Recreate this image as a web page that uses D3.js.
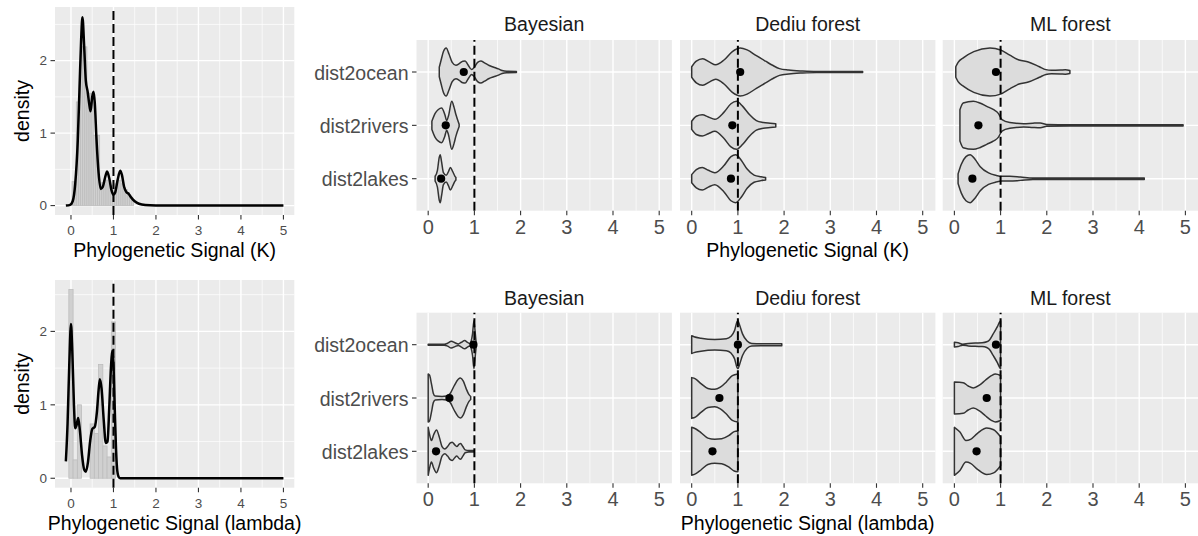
<!DOCTYPE html>
<html><head><meta charset="utf-8">
<script src="https://cdn.jsdelivr.net/npm/d3@7"></script>
<style>body{margin:0;background:#fff}svg{display:block;font-family:"Liberation Sans",Arial,sans-serif}</style>
</head><body><svg id="c" width="1198" height="536"></svg>
<script>
// ---------------- data ----------------
const methods = ["Bayesian", "Dediu forest", "ML forest"];
const variables = ["dist2ocean", "dist2rivers", "dist2lakes"];
const xTickValues = [0, 1, 2, 3, 4, 5];
const densityYTicks = [0, 1, 2];
const refLine = 1;

// density of K (pairs x, density)
const kDensity = [[-0.12,0],[-0.02,0.01],[0.04,0.06],[0.1,0.3],[0.16,0.9],[0.2,1.6],[0.24,2.3],[0.27,2.6],[0.31,2.2],[0.35,1.72],[0.39,1.58],[0.43,1.4],[0.46,1.3],[0.5,1.5],[0.53,1.57],[0.56,1.42],[0.6,0.92],[0.65,0.45],[0.7,0.23],[0.75,0.26],[0.8,0.38],[0.85,0.47],[0.9,0.38],[0.95,0.22],[1.0,0.15],[1.04,0.18],[1.1,0.36],[1.16,0.48],[1.2,0.42],[1.25,0.26],[1.3,0.19],[1.36,0.16],[1.42,0.11],[1.5,0.06],[1.6,0.025],[1.75,0.008],[2.0,0.002],[2.5,0],[5,0]];
const kHistMids = [0.05,0.10,0.15,0.20,0.25,0.30,0.35,0.40,0.45,0.50,0.55,0.60,0.65,0.70,0.75,0.80,0.85,0.90,0.95,1.00,1.05,1.10,1.15,1.20,1.25,1.30,1.35,1.40,1.45];
const kHistHeights = [0.33,0.33,1.43,1.43,2.19,2.19,2.19,1.55,1.55,1.55,0.97,0.97,0.97,0.30,0.32,0.35,0.35,0.30,0.28,0.28,0.30,0.35,0.35,0.30,0.25,0.22,0.18,0.12,0.08];
const kHistWidth = 0.05;

// density of lambda
const lambdaDensity = [[-0.12,0.23],[-0.08,0.75],[-0.04,1.55],[0,2.1],[0.03,1.75],[0.07,1.0],[0.1,0.68],[0.13,0.72],[0.17,0.82],[0.21,0.65],[0.26,0.32],[0.31,0.12],[0.35,0.09],[0.4,0.22],[0.45,0.5],[0.5,0.67],[0.56,0.7],[0.61,0.9],[0.65,1.2],[0.68,1.35],[0.72,1.22],[0.77,0.8],[0.82,0.48],[0.86,0.5],[0.9,0.95],[0.94,1.5],[0.97,1.74],[1.0,1.55],[1.03,0.95],[1.06,0.4],[1.09,0.1],[1.13,0.01],[1.16,0],[5,0]];
const lambdaHistMids = [0,0.1,0.2,0.3,0.4,0.5,0.6,0.7,0.8,0.9,1.0];
const lambdaHistHeights = [2.57,0.25,1.0,0,0,0.74,0.61,1.55,0.44,0.29,2.13];
const lambdaHistWidth = 0.1;

// violin profiles: [value, relative half-width]
const kBayesOcean = [[0.24,0.2],[0.28,0.5],[0.33,0.85],[0.39,1.0],[0.45,0.75],[0.52,0.4],[0.6,0.28],[0.68,0.36],[0.75,0.45],[0.8,0.46],[0.86,0.3],[0.94,0.1],[1.0,0.2],[1.07,0.4],[1.14,0.46],[1.22,0.38],[1.32,0.27],[1.42,0.2],[1.52,0.13],[1.6,0.06],[1.7,0.03],[1.91,0.025]];
const kBayesRivers = [[0.08,0.17],[0.15,0.5],[0.22,0.66],[0.29,0.72],[0.36,0.45],[0.4,0.2],[0.44,0.4],[0.51,1.0],[0.56,0.75],[0.6,0.45],[0.67,0.05]];
const kBayesLakes = [[0.15,0.1],[0.2,0.35],[0.24,0.9],[0.26,1.0],[0.29,0.7],[0.33,0.25],[0.39,0.14],[0.44,0.3],[0.48,0.47],[0.53,0.3],[0.58,0.1],[0.6,0.05]];
const kDediuOcean = [[0,0.22],[0.1,0.45],[0.24,0.55],[0.38,0.42],[0.52,0.3],[0.7,0.5],[0.88,0.85],[1.05,1.0],[1.2,0.92],[1.4,0.68],[1.6,0.45],[1.75,0.28],[1.9,0.14],[2.1,0.08],[2.4,0.04],[2.7,0.02],[3.7,0.02]];
const kDediuRivers = [[0,0.17],[0.1,0.38],[0.23,0.44],[0.36,0.35],[0.5,0.25],[0.7,0.55],[0.85,0.9],[0.97,1.0],[1.1,0.8],[1.25,0.45],[1.4,0.2],[1.55,0.12],[1.7,0.09],[1.82,0.07]];
const kDediuLakes = [[0,0.17],[0.1,0.38],[0.23,0.47],[0.36,0.35],[0.5,0.25],[0.7,0.55],[0.85,0.92],[0.95,1.0],[1.08,0.75],[1.2,0.4],[1.35,0.15],[1.5,0.08],[1.6,0.05]];
const kMLOcean = [[0.03,0.22],[0.08,0.4],[0.2,0.6],[0.42,0.85],[0.77,1.0],[1.0,0.92],[1.2,0.7],[1.4,0.5],[1.6,0.42],[1.84,0.22],[1.98,0.1],[2.1,0.07],[2.3,0.08],[2.4,0.09],[2.5,0.06]];
const kMLRivers = [[0.12,0.65],[0.19,0.93],[0.41,1.0],[0.55,0.93],[0.7,0.79],[0.85,0.65],[0.95,0.5],[1.03,0.24],[1.2,0.12],[1.5,0.07],[1.7,0.09],[1.86,0.1],[2.0,0.04],[2.5,0.025],[4.95,0.025]];
const kMLLakes = [[0.08,0.2],[0.15,0.6],[0.25,0.92],[0.34,1.0],[0.45,0.8],[0.56,0.5],[0.74,0.24],[0.9,0.14],[1.03,0.1],[1.2,0.1],[1.43,0.07],[1.7,0.03],[4.11,0.03]];

const lambdaBayesOcean = [[0,0.02],[0.35,0.02],[0.42,0.06],[0.5,0.14],[0.58,0.08],[0.65,0.03],[0.72,0.1],[0.79,0.17],[0.85,0.1],[0.9,0.05],[0.93,0.15],[0.96,0.45],[0.99,1.0],[1.02,0.45],[1.04,0.05]];
const lambdaBayesRivers = [[0,1.0],[0.03,0.95],[0.07,0.6],[0.11,0.2],[0.15,0.08],[0.3,0.06],[0.4,0.08],[0.48,0.2],[0.56,0.5],[0.65,0.78],[0.7,0.83],[0.76,0.7],[0.82,0.4],[0.88,0.15],[0.92,0.06]];
const lambdaBayesLakes = [[0,1.0],[0.03,0.7],[0.07,0.45],[0.12,0.7],[0.18,0.89],[0.24,0.6],[0.3,0.2],[0.36,0.1],[0.42,0.2],[0.48,0.35],[0.52,0.38],[0.57,0.28],[0.62,0.2],[0.67,0.3],[0.7,0.33],[0.75,0.2],[0.8,0.06],[0.88,0.03],[0.99,0.03]];
const lambdaDediuOcean = [[0,0.37],[0.05,0.33],[0.2,0.27],[0.5,0.22],[0.75,0.25],[0.85,0.35],[0.93,0.6],[0.98,0.95],[1.0,1.0],[1.04,0.8],[1.1,0.45],[1.2,0.15],[1.3,0.05],[1.5,0.04],[1.95,0.04]];
const lambdaDediuRivers = [[0,0.85],[0.08,0.8],[0.2,0.6],[0.35,0.4],[0.5,0.36],[0.62,0.45],[0.75,0.67],[0.88,0.93],[1.0,1.0]];
const lambdaDediuLakes = [[0,1.0],[0.1,0.92],[0.2,0.78],[0.35,0.55],[0.5,0.5],[0.65,0.52],[0.8,0.65],[0.92,0.82],[1.0,0.85]];
const lambdaMLOcean = [[0,0.1],[0.08,0.08],[0.18,0.02],[0.3,0.05],[0.45,0.07],[0.6,0.08],[0.7,0.12],[0.76,0.2],[0.84,0.45],[0.93,0.75],[0.98,0.95],[1.0,1.0]];
const lambdaMLRivers = [[0,0.67],[0.19,0.64],[0.3,0.5],[0.41,0.42],[0.55,0.55],[0.67,0.74],[0.8,0.93],[0.89,1.0],[1.0,0.94]];
const lambdaMLLakes = [[0,1.0],[0.12,0.8],[0.25,0.45],[0.35,0.5],[0.5,0.75],[0.7,0.97],[0.85,0.9],[1.0,0.6]];

// means (per method: ocean, rivers, lakes)
const kMeans = [[0.77,0.38,0.28],[1.05,0.88,0.85],[0.90,0.52,0.39]];
const lambdaMeans = [[0.98,0.46,0.17],[1.0,0.60,0.45],[0.90,0.70,0.48]];

const kViolins = [[kBayesOcean,kBayesRivers,kBayesLakes],[kDediuOcean,kDediuRivers,kDediuLakes],[kMLOcean,kMLRivers,kMLLakes]];
const lambdaViolins = [[lambdaBayesOcean,lambdaBayesRivers,lambdaBayesLakes],[lambdaDediuOcean,lambdaDediuRivers,lambdaDediuLakes],[lambdaMLOcean,lambdaMLRivers,lambdaMLLakes]];

// ---------------- drawing ----------------
const svg = d3.select("#c");
const PANEL_BG = "#ebebeb", TICK_COL = "#333333", TXT = "#4d4d4d";
const BIG = 19.5, SMALL = 13.5, VTICK = 20;

function gridAndBg(g, x, y, xr, yr, xMajor, xMinor, yMajor, yMinor) {
  g.append("rect").attr("x", xr[0]).attr("y", yr[1]).attr("width", xr[1]-xr[0]).attr("height", yr[0]-yr[1]).attr("fill", PANEL_BG);
  xMinor.forEach(v => g.append("line").attr("x1", x(v)).attr("x2", x(v)).attr("y1", yr[0]).attr("y2", yr[1]).attr("stroke","#fff").attr("stroke-width",0.7));
  yMinor.forEach(v => g.append("line").attr("y1", y(v)).attr("y2", y(v)).attr("x1", xr[0]).attr("x2", xr[1]).attr("stroke","#fff").attr("stroke-width",0.7));
  xMajor.forEach(v => g.append("line").attr("x1", x(v)).attr("x2", x(v)).attr("y1", yr[0]).attr("y2", yr[1]).attr("stroke","#fff").attr("stroke-width",1.4));
  yMajor.forEach(v => g.append("line").attr("y1", y(v)).attr("y2", y(v)).attr("x1", xr[0]).attr("x2", xr[1]).attr("stroke","#fff").attr("stroke-width",1.4));
}

function xAxis(g, x, yBottom, fontSize, baseline) {
  xTickValues.forEach(v => {
    g.append("line").attr("x1", x(v)).attr("x2", x(v)).attr("y1", yBottom).attr("y2", yBottom+4.5).attr("stroke", TICK_COL).attr("stroke-width",1.1);
    g.append("text").attr("x", x(v)).attr("y", baseline).attr("text-anchor","middle").attr("font-size", fontSize).attr("fill", TXT).text(v);
  });
}

function vline(g, x, yr) {
  g.append("line").attr("x1", x(refLine)).attr("x2", x(refLine)).attr("y1", yr[0]).attr("y2", yr[1])
    .attr("stroke","#000").attr("stroke-width",2).attr("stroke-dasharray","9,4");
}

function densityPanel(dens, mids, heights, bw, yDomain, yr, tickBase, titleBase, title) {
  const xr = [55, 294.3];
  const x = d3.scaleLinear().domain([-0.376, 5.256]).range(xr);
  const y = d3.scaleLinear().domain(yDomain).range(yr);
  const g = svg.append("g");
  gridAndBg(g, x, y, xr, yr, xTickValues, [0.5,1.5,2.5,3.5,4.5], densityYTicks, [0.5,1.5,2.5]);
  mids.forEach((m, i) => {
    g.append("rect").attr("x", x(m - bw/2)).attr("width", x(m + bw/2) - x(m - bw/2))
      .attr("y", y(heights[i])).attr("height", y(0) - y(heights[i]))
      .attr("fill","#d0d0d0").attr("stroke","#bdbdbd").attr("stroke-width",0.8);
  });
  const line = d3.line().x(d => x(d[0])).y(d => y(d[1])).curve(d3.curveMonotoneX);
  g.append("path").attr("d", line(dens)).attr("fill","none").attr("stroke","#000").attr("stroke-width",2.5).attr("stroke-linejoin","round");
  vline(g, x, yr);
  densityYTicks.forEach(v => {
    g.append("line").attr("x1", xr[0]-4.5).attr("x2", xr[0]).attr("y1", y(v)).attr("y2", y(v)).attr("stroke", TICK_COL).attr("stroke-width",1.1);
    g.append("text").attr("x", 47).attr("y", y(v)).attr("dy","0.36em").attr("text-anchor","end").attr("font-size", SMALL).attr("fill", TXT).text(v);
  });
  xAxis(g, x, yr[0], SMALL, tickBase);
  g.append("text").attr("x", (xr[0]+xr[1])/2).attr("y", titleBase).attr("text-anchor","middle").attr("font-size", BIG).attr("fill","#000").text(title);
  const cy = (yr[0]+yr[1])/2;
  g.append("text").attr("transform", `translate(29,${cy}) rotate(-90)`).attr("text-anchor","middle").attr("font-size", BIG).attr("fill","#000").text("density");
}

densityPanel(kDensity, kHistMids, kHistHeights, kHistWidth, [-0.13, 2.74], [215, 7], 235, 256.5, "Phylogenetic Signal (K)");
densityPanel(lambdaDensity, lambdaHistMids, lambdaHistHeights, lambdaHistWidth, [-0.1285, 2.70], [487.7, 280], 507.5, 530, "Phylogenetic Signal (lambda)");

function violinRow(violins, means, yr, stripBase, tickBase, titleBase, title) {
  const lefts = [416.5, 680, 942.7], W = 255.4;
  const y = d3.scaleLinear().domain([0.4, 3.6]).range(yr);
  const catPos = [3, 2, 1];
  const hw = 0.45 * (y(1) - y(2));
  methods.forEach((m, mi) => {
    const xr = [lefts[mi], lefts[mi] + W];
    const x = d3.scaleLinear().domain([-0.253, 5.275]).range(xr);
    const g = svg.append("g");
    gridAndBg(g, x, y, xr, yr, xTickValues, [0.5,1.5,2.5,3.5,4.5], catPos, []);
    variables.forEach((v, vi) => {
      const yc = y(catPos[vi]);
      const area = d3.area().x(d => x(d[0])).y0(d => yc - d[1]*hw).y1(d => yc + d[1]*hw).curve(d3.curveMonotoneX);
      g.append("path").attr("d", area(violins[mi][vi])).attr("fill","#dcdcdc").attr("stroke","#333333").attr("stroke-width",1.5).attr("stroke-linejoin","round");
    });
    vline(g, x, yr);
    variables.forEach((v, vi) => {
      g.append("circle").attr("cx", x(means[mi][vi])).attr("cy", y(catPos[vi])).attr("r", 4.1).attr("fill","#000");
    });
    xAxis(g, x, yr[0], VTICK, tickBase);
    g.append("text").attr("x", (xr[0]+xr[1])/2).attr("y", stripBase).attr("text-anchor","middle").attr("font-size", BIG).attr("fill","#1a1a1a").text(m);
    if (mi === 0) {
      variables.forEach((v, vi) => {
        const yc = y(catPos[vi]);
        g.append("line").attr("x1", xr[0]-4.5).attr("x2", xr[0]).attr("y1", yc).attr("y2", yc).attr("stroke", TICK_COL).attr("stroke-width",1.1);
        g.append("text").attr("x", xr[0]-8).attr("y", yc).attr("dy","0.4em").attr("text-anchor","end").attr("font-size", BIG).attr("fill", TXT).text(v);
      });
    }
    if (mi === 1) {
      g.append("text").attr("x", (xr[0]+xr[1])/2).attr("y", titleBase).attr("text-anchor","middle").attr("font-size", BIG).attr("fill","#000").text(title);
    }
  });
}

violinRow(kViolins, kMeans, [210.7, 40], 30.5, 234.3, 256.5, "Phylogenetic Signal (K)");
violinRow(lambdaViolins, lambdaMeans, [483.3, 312.7], 305, 506, 530, "Phylogenetic Signal (lambda)");
</script></body></html>
